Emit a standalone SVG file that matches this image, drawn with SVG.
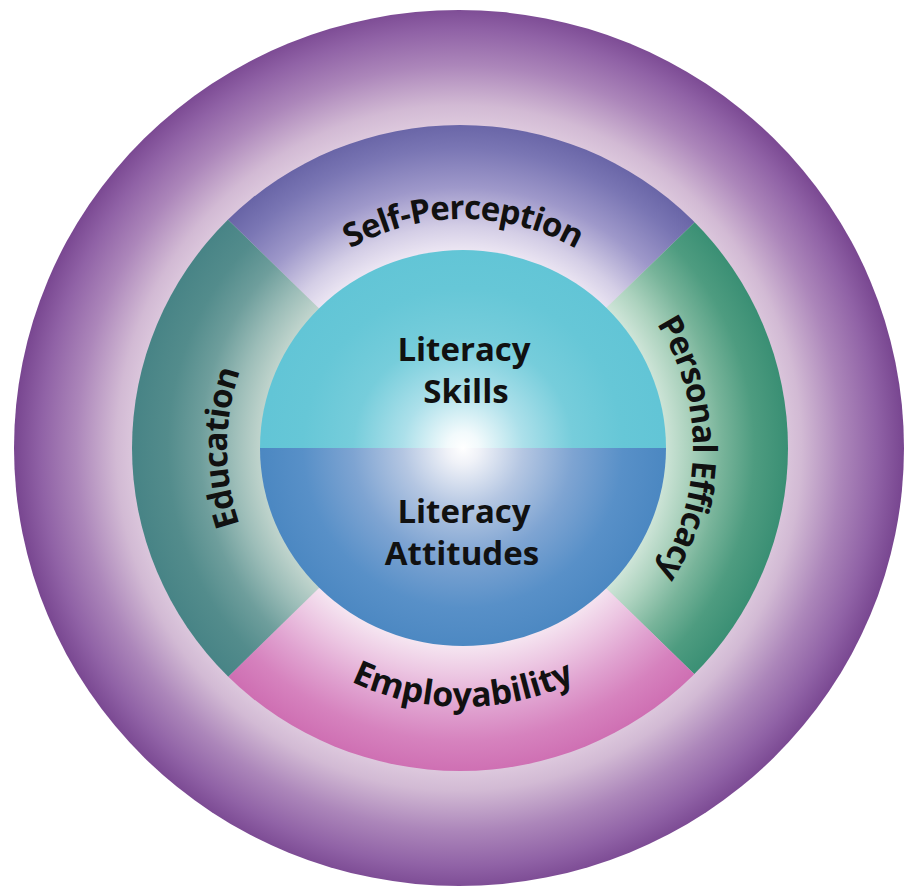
<svg xmlns="http://www.w3.org/2000/svg" xmlns:xlink="http://www.w3.org/1999/xlink" width="904" height="886" viewBox="0 0 904 886">
  <style>
    .lbl { font-family: "Open Sans", "Liberation Sans", sans-serif; font-weight: 700; font-size: 33px; letter-spacing: -1px; fill: #111111; }
    .lbl-b { font-family: "Open Sans", "Liberation Sans", sans-serif; font-weight: 700; font-size: 34px; fill: #111111; }
    .core { font-family: "Open Sans", "Liberation Sans", sans-serif; font-weight: 700; font-size: 33px; fill: #111111; text-anchor: middle; }
  </style>
  <defs>
    <radialGradient id="gOuter" gradientUnits="userSpaceOnUse" cx="459" cy="448" r="445">
      <stop offset="0" stop-color="#E4D4E4"/>
      <stop offset="0.72" stop-color="#DECADE"/>
      <stop offset="0.77" stop-color="#D2BAD4"/>
      <stop offset="0.86" stop-color="#AC86BA"/>
      <stop offset="0.94" stop-color="#9062A6"/>
      <stop offset="1" stop-color="#784690"/>
    </radialGradient>
    <radialGradient id="gSP" gradientUnits="userSpaceOnUse" cx="461" cy="448" r="326">
      <stop offset="0.6" stop-color="#EEE8F4"/>
      <stop offset="0.68" stop-color="#D4CEE6"/>
      <stop offset="0.8" stop-color="#9E98CA"/>
      <stop offset="0.92" stop-color="#7A76B4"/>
      <stop offset="1" stop-color="#6864A6"/>
    </radialGradient>
    <radialGradient id="gED" gradientUnits="userSpaceOnUse" cx="461" cy="448" r="326">
      <stop offset="0.6" stop-color="#C6D8D0"/>
      <stop offset="0.7" stop-color="#9CBDB8"/>
      <stop offset="0.8" stop-color="#6E9E9C"/>
      <stop offset="0.9" stop-color="#538C8C"/>
      <stop offset="1" stop-color="#488486"/>
    </radialGradient>
    <radialGradient id="gPE" gradientUnits="userSpaceOnUse" cx="461" cy="448" r="326">
      <stop offset="0.6" stop-color="#D8EADF"/>
      <stop offset="0.7" stop-color="#ACD2BE"/>
      <stop offset="0.8" stop-color="#78B49A"/>
      <stop offset="0.9" stop-color="#4E9C80"/>
      <stop offset="1" stop-color="#3A8F74"/>
    </radialGradient>
    <radialGradient id="gEM" gradientUnits="userSpaceOnUse" cx="461" cy="448" r="326">
      <stop offset="0.6" stop-color="#F6E8F2"/>
      <stop offset="0.7" stop-color="#ECC6E2"/>
      <stop offset="0.8" stop-color="#E0A2D0"/>
      <stop offset="0.9" stop-color="#D682BE"/>
      <stop offset="1" stop-color="#CE6EB2"/>
    </radialGradient>
    <radialGradient id="gTop" gradientUnits="userSpaceOnUse" cx="463" cy="448" r="200">
      <stop offset="0" stop-color="#FFFFFF"/>
      <stop offset="0.08" stop-color="#F2FAFC"/>
      <stop offset="0.3" stop-color="#ACE0EA"/>
      <stop offset="0.55" stop-color="#76CDDB"/>
      <stop offset="0.8" stop-color="#66C7D7"/>
      <stop offset="1" stop-color="#62C5D6"/>
    </radialGradient>
    <radialGradient id="gBot" gradientUnits="userSpaceOnUse" cx="463" cy="448" r="200">
      <stop offset="0" stop-color="#FFFFFF"/>
      <stop offset="0.08" stop-color="#F0F2F8"/>
      <stop offset="0.3" stop-color="#B4C6E2"/>
      <stop offset="0.55" stop-color="#7EA4D2"/>
      <stop offset="0.8" stop-color="#5890C8"/>
      <stop offset="1" stop-color="#4C88C2"/>
    </radialGradient>
    <clipPath id="ringClip">
      <ellipse cx="460" cy="448" rx="328" ry="323"/>
    </clipPath>
    <path id="pSP" d="M 234 448 A 229 229 0 0 1 692 448"/>
    <path id="pED" d="M 463 684 A 236 236 0 0 1 463 212"/>
    <path id="pPE" d="M 463 218 A 230 230 0 0 1 463 678"/>
    <path id="pEM" d="M 204 448 A 259 259 0 0 0 722 448"/>
  </defs>

  <g id="outer-ring">
    <ellipse cx="459" cy="448" rx="445" ry="438" fill="url(#gOuter)"/>
  </g>

  <g id="middle-ring" clip-path="url(#ringClip)">
    <g id="seg-self-perception">
      <polygon points="462,448 88,83 838,83" fill="url(#gSP)"/>
    </g>
    <g id="seg-personal-efficacy">
      <polygon points="462,448 838,83 838,814" fill="url(#gPE)"/>
    </g>
    <g id="seg-employability">
      <polygon points="462,448 838,814 88,814" fill="url(#gEM)"/>
    </g>
    <g id="seg-education">
      <polygon points="462,448 88,814 88,83" fill="url(#gED)"/>
    </g>
  </g>

  <g id="core-skills">
    <path d="M 260 448 A 203 198 0 0 1 666 448 Z" fill="url(#gTop)"/>
    <text class="core" x="464" y="361">Literacy</text>
    <text class="core" x="466" y="403">Skills</text>
  </g>
  <g id="core-attitudes">
    <path d="M 260 448 A 203 198 0 0 0 666 448 Z" fill="url(#gBot)"/>
    <text class="core" x="464" y="523">Literacy</text>
    <text class="core" x="462" y="565">Attitudes</text>
  </g>

  <g id="labels">
    <text class="lbl"><textPath xlink:href="#pSP" href="#pSP" startOffset="50%" text-anchor="middle">Self-Perception</textPath></text>
    <text class="lbl"><textPath xlink:href="#pED" href="#pED" startOffset="50%" text-anchor="middle">Education</textPath></text>
    <text class="lbl"><textPath xlink:href="#pPE" href="#pPE" startOffset="50%" text-anchor="middle">Personal Efficacy</textPath></text>
    <text class="lbl-b"><textPath xlink:href="#pEM" href="#pEM" startOffset="50%" text-anchor="middle">Employability</textPath></text>
  </g>

  <g id="connectors"/>
</svg>
